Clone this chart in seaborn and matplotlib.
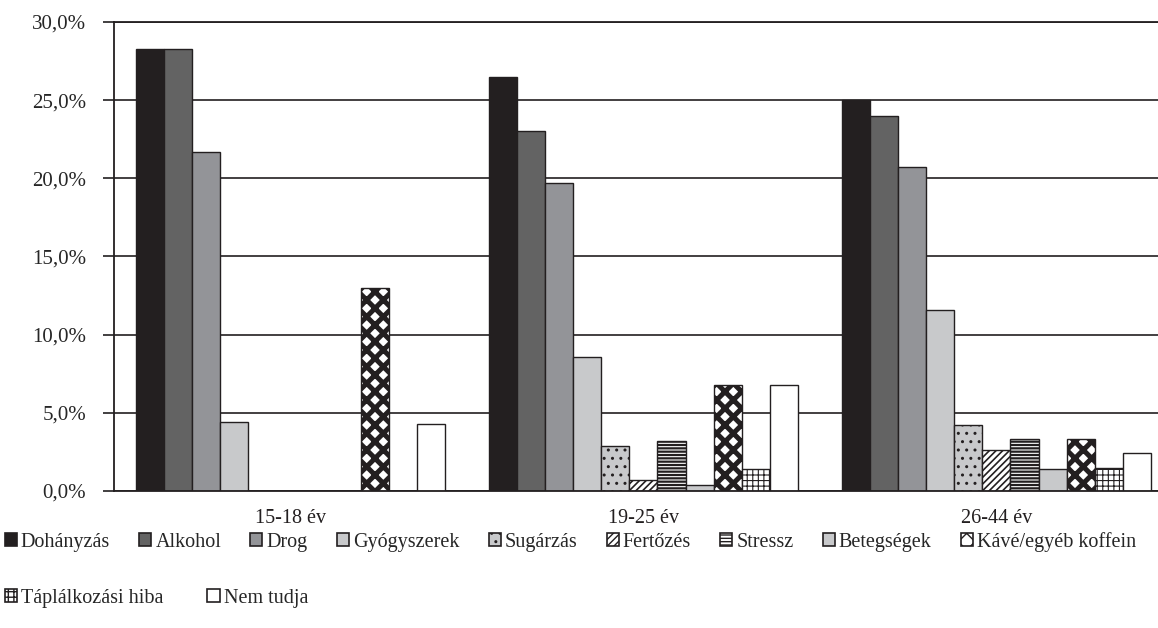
import pandas as pd
import matplotlib
matplotlib.use("Agg")
import matplotlib.pyplot as plt
from matplotlib.patches import Patch
from matplotlib.ticker import FuncFormatter, MultipleLocator, FixedLocator
import seaborn as sns

# Data (%)
groups = ["15-18 év", "19-25 év", "26-44 év"]
causes = ["Dohányzás", "Alkohol", "Drog", "Gyógyszerek", "Sugárzás", "Fertőzés",
          "Stressz", "Betegségek", "Kávé/egyéb koffein", "Táplálkozási hiba", "Nem tudja"]
v_15_18 = [28.3, 28.3, 21.7, 4.4, 0.0, 0.0, 0.0, 0.0, 13.0, 0.0, 4.3]
v_19_25 = [26.5, 23.0, 19.7, 8.6, 2.9, 0.7, 3.2, 0.4, 6.8, 1.4, 6.8]
v_26_44 = [25.0, 24.0, 20.7, 11.6, 4.2, 2.6, 3.3, 1.4, 3.3, 1.5, 2.4]

df = pd.DataFrame({
    "group": [g for g in groups for _ in causes],
    "cause": causes * len(groups),
    "value": v_15_18 + v_19_25 + v_26_44,
})

# Style
sns.set_style("white")
plt.rcParams["font.family"] = ["Liberation Serif", "DejaVu Serif"]
plt.rcParams["hatch.linewidth"] = 1.0

dark = "#231f20"
colors = ["#231f20", "#636363", "#939498", "#c8c9cb", "#c8c9cb", "#ffffff",
          "#ffffff", "#c8c9cb", "#ffffff", "#ffffff", "#ffffff"]
hatches = [None, None, None, None, "..", "/////", "-----", None, "xx", "+++", None]
hatch_lw = [1, 1, 1, 1, 1.0, 1.2, 1.6, 1, 3.6, 0.8, 1]

fig = plt.figure(figsize=(11.58, 6.28), dpi=100)
ax = fig.add_axes([0.0984, 0.2182, 0.9145, 0.7468])

sns.barplot(
    data=df, x="group", y="value", hue="cause",
    order=groups, hue_order=causes, palette=colors,
    width=0.875, edgecolor=dark, linewidth=1.0,
    errorbar=None, legend=False, saturation=1, ax=ax
)


def style_patch(p, i):
    p.set_facecolor(colors[i])
    p.set_edgecolor(dark)
    if hatches[i]:
        p.set_hatch(hatches[i])
        if hasattr(p, "set_hatch_linewidth"):
            p.set_hatch_linewidth(hatch_lw[i])


for i, cont in enumerate(ax.containers):
    for bar in cont:
        style_patch(bar, i)

# Axes
ax.set_xlim(-0.5, 2.5)
ax.set_ylim(0, 30)
ax.yaxis.set_major_locator(MultipleLocator(5))
ax.yaxis.set_major_formatter(FuncFormatter(lambda v, _: f"{v:.1f}%".replace(".", ",")))
ax.xaxis.set_minor_locator(FixedLocator([-0.5, 0.5, 1.5, 2.5]))
ax.tick_params(axis="x", which="major", length=0, pad=13, labelsize=14.5, colors=dark)
ax.tick_params(axis="x", which="minor", length=8, width=1.2, color=dark, direction="out")
ax.tick_params(axis="y", length=8, width=1.2, color=dark, pad=12, labelsize=15,
               direction="out", left=True)
ax.yaxis.grid(True, color=dark, linewidth=1.2)
ax.set_axisbelow(True)
for s in ["left", "bottom", "top"]:
    ax.spines[s].set_color(dark)
    ax.spines[s].set_linewidth(1.3)
ax.spines["right"].set_visible(False)
ax.set_xlabel("")
ax.set_ylabel("")

# Legend (two rows)
handles = []
for i, c in enumerate(causes):
    h = Patch(facecolor=colors[i], edgecolor=dark, hatch=hatches[i], linewidth=1.2, label=c)
    if hatches[i] and hasattr(h, "set_hatch_linewidth"):
        h.set_hatch_linewidth(hatch_lw[i] * 0.5)
    handles.append(h)

leg_kw = dict(frameon=False, handlelength=0.6, handleheight=0.6, handletextpad=0.2,
              borderaxespad=0, borderpad=0, fontsize=14.5, loc="center left")
leg1 = fig.legend(handles=handles[:9], ncol=9, columnspacing=1.45,
                  bbox_to_anchor=(0.004, 1 - 542 / 628), **leg_kw)
leg2 = fig.legend(handles=handles[9:], ncol=2, columnspacing=2.2,
                  bbox_to_anchor=(0.004, 1 - 598 / 628), **leg_kw)

plt.savefig("out.png", dpi=100)
